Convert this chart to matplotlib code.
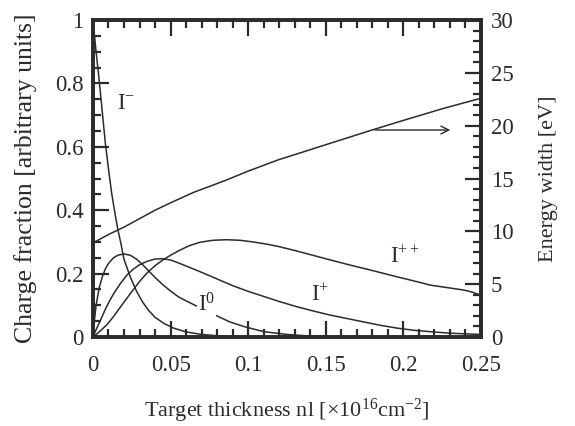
import matplotlib
matplotlib.use("Agg")
import matplotlib.pyplot as plt
from matplotlib.ticker import MultipleLocator, FuncFormatter

plt.rcParams["font.family"] = "Liberation Serif"
plt.rcParams["mathtext.fontset"] = "custom"
plt.rcParams["mathtext.rm"] = "Liberation Serif"
plt.rcParams["mathtext.it"] = "Liberation Serif"

INK = "#2b2b2b"

# Charge fractions vs target thickness (x in 1e16 cm^-2)
x_minus = [0, 0.002, 0.004, 0.006, 0.008, 0.010, 0.012, 0.014, 0.016, 0.018, 0.020,
           0.024, 0.028, 0.032, 0.036, 0.040, 0.046, 0.052, 0.060, 0.070, 0.080, 0.095, 0.11]
y_minus = [1.0, 0.90, 0.81, 0.71, 0.61, 0.53, 0.455, 0.395, 0.34, 0.295, 0.245,
           0.19, 0.145, 0.11, 0.083, 0.062, 0.042, 0.028, 0.016, 0.008, 0.004, 0.001, 0.0]

x_zero = [0, 0.001, 0.002, 0.004, 0.006, 0.008, 0.010, 0.013, 0.016, 0.020, 0.024, 0.028,
          0.032, 0.036, 0.040, 0.045, 0.050, 0.055, 0.060, 0.067, 0.075, 0.081, 0.088,
          0.098, 0.11, 0.125, 0.14, 0.16]
y_zero = [0, 0.055, 0.10, 0.155, 0.19, 0.215, 0.232, 0.249, 0.258, 0.262, 0.258, 0.246,
          0.228, 0.208, 0.188, 0.165, 0.145, 0.127, 0.114, 0.097, 0.078, 0.064, 0.048,
          0.032, 0.017, 0.008, 0.003, 0.0]

x_plus = [0, 0.002, 0.005, 0.008, 0.011, 0.014, 0.018, 0.022, 0.026, 0.030, 0.035, 0.040,
          0.045, 0.050, 0.056, 0.063, 0.070, 0.080, 0.090, 0.100, 0.110, 0.120, 0.131,
          0.142, 0.153, 0.164, 0.174, 0.185, 0.196, 0.207, 0.217, 0.23, 0.24, 0.25]
y_plus = [0, 0.023, 0.055, 0.088, 0.117, 0.142, 0.171, 0.196, 0.214, 0.228, 0.239, 0.246,
          0.247, 0.243, 0.232, 0.218, 0.204, 0.183, 0.162, 0.144, 0.128, 0.112, 0.096,
          0.082, 0.069, 0.058, 0.048, 0.037, 0.028, 0.021, 0.017, 0.012, 0.010, 0.008]

x_pp = [0, 0.003, 0.006, 0.009, 0.013, 0.017, 0.020, 0.025, 0.030, 0.035, 0.040, 0.045,
        0.050, 0.056, 0.062, 0.069, 0.077, 0.086, 0.095, 0.103, 0.112, 0.120, 0.130,
        0.140, 0.153, 0.164, 0.174, 0.183, 0.191, 0.200, 0.210, 0.217, 0.228, 0.239,
        0.244, 0.25]
y_pp = [0, 0.012, 0.025, 0.039, 0.063, 0.09, 0.11, 0.143, 0.175, 0.203, 0.225, 0.243,
        0.258, 0.274, 0.288, 0.299, 0.305, 0.307, 0.305, 0.300, 0.293, 0.285, 0.273,
        0.26, 0.243, 0.229, 0.217, 0.206, 0.196, 0.185, 0.173, 0.164, 0.156, 0.148,
        0.142, 0.132]

# Energy width (right axis, eV)
x_width = [0, 0.01, 0.02, 0.03, 0.04, 0.05, 0.065, 0.085, 0.10, 0.12, 0.133, 0.15,
           0.18, 0.20, 0.225, 0.25]
e_width = [8.9, 9.7, 10.4, 11.2, 12.0, 12.7, 13.7, 14.8, 15.7, 16.8, 17.4, 18.2,
           19.6, 20.5, 21.6, 22.6]

fig = plt.figure(figsize=(5.75, 4.26), dpi=100)
ax = fig.add_axes([0.1617, 0.2089, 0.6748, 0.7441])
ax2 = ax.twinx()

for xs, ys in [(x_minus, y_minus), (x_zero, y_zero), (x_plus, y_plus), (x_pp, y_pp)]:
    ax.plot(xs, ys, color=INK, lw=1.1, solid_capstyle="round")
ax2.plot(x_width, e_width, color=INK, lw=1.1)

ax.set_xlim(0, 0.25)
ax.set_ylim(0, 1)
ax2.set_ylim(0, 30)

fmt = FuncFormatter(lambda v, p: f"{v:g}")
ax.xaxis.set_major_locator(MultipleLocator(0.05))
ax.xaxis.set_minor_locator(MultipleLocator(0.01))
ax.yaxis.set_major_locator(MultipleLocator(0.2))
ax.yaxis.set_minor_locator(MultipleLocator(0.05))
ax.xaxis.set_major_formatter(fmt)
ax.yaxis.set_major_formatter(fmt)
ax2.yaxis.set_major_locator(MultipleLocator(5))
ax2.yaxis.set_minor_locator(MultipleLocator(1))

for a in (ax, ax2):
    for s in a.spines.values():
        s.set_linewidth(2.6)
        s.set_color(INK)
ax.tick_params(which="both", direction="in", top=True, right=False, color=INK,
               labelcolor=INK, labelsize=16.5, width=1.6)
ax.tick_params(which="major", length=11.5)
ax.tick_params(which="minor", length=6)
ax.tick_params(axis="x", which="major", pad=13)
ax.tick_params(axis="y", which="major", pad=7)
ax2.tick_params(which="both", direction="in", color=INK, labelcolor=INK,
                labelsize=16.5, width=1.6, pad=7)
ax2.tick_params(which="major", length=11.5)
ax2.tick_params(which="minor", length=6)

ax.set_xlabel(r"Target thickness nl [$\times$10$^{\mathrm{16}}$cm$^{\mathrm{-2}}$]",
              fontsize=16, color=INK)
ax.set_ylabel("Charge fraction [arbitrary units]", fontsize=18.5, color=INK)
ax2.set_ylabel("Energy width [eV]", fontsize=16, color=INK)
ax.xaxis.set_label_coords(0.5, -0.19)
ax.yaxis.set_label_coords(-0.144, 0.5)
ax2.yaxis.set_label_coords(1.15, 0.5)

lab = dict(fontsize=16.5, color=INK, ha="center", va="center")
ax.text(0.021, 0.738, r"I$^{\mathrm{-}}$", **lab)
ax.text(0.073, 0.100, r"I$^{\mathrm{0}}$",
        bbox=dict(facecolor="white", edgecolor="none", pad=0.5), **lab)
ax.text(0.146, 0.132, r"I$^{\mathrm{+}}$", **lab)
ax.text(0.201, 0.253, r"I$^{\mathrm{++}}$", **lab)

ax.annotate("", xy=(0.232, 0.653), xytext=(0.180, 0.653),
            arrowprops=dict(arrowstyle="->", color=INK, lw=1.0,
                            mutation_scale=14))

fig.savefig("out.png", dpi=100)
